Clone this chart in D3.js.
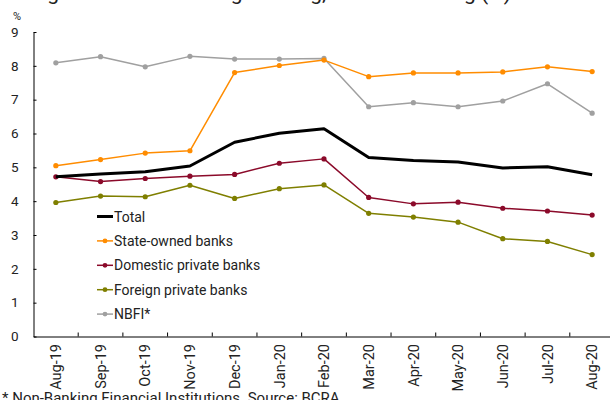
<!DOCTYPE html>
<html>
<head>
<meta charset="utf-8">
<script src="https://cdn.jsdelivr.net/npm/d3@7"></script>
<style>
  body { margin: 0; background: #fff; }
  svg { font-family: Roboto, "Liberation Sans", sans-serif; display: block; }
</style>
</head>
<body>
<div id="chart"></div>
<script>
// categories and series
const months = ["Aug-19","Sep-19","Oct-19","Nov-19","Dec-19","Jan-20","Feb-20",
                "Mar-20","Apr-20","May-20","Jun-20","Jul-20","Aug-20"];
const total    = [4.72, 4.80, 4.87, 5.04, 5.74, 6.01, 6.14, 5.29, 5.20, 5.16, 4.98, 5.02, 4.78];
const stateOwned = [5.05, 5.23, 5.42, 5.49, 7.80, 8.01, 8.17, 7.68, 7.79, 7.79, 7.82, 7.97, 7.83];
const domestic = [4.72, 4.58, 4.67, 4.74, 4.79, 5.12, 5.25, 4.11, 3.92, 3.97, 3.79, 3.71, 3.59];
const foreign  = [3.96, 4.15, 4.13, 4.47, 4.08, 4.37, 4.48, 3.64, 3.53, 3.38, 2.89, 2.81, 2.42];
const nbfi     = [8.09, 8.27, 7.97, 8.28, 8.20, 8.20, 8.22, 6.79, 6.91, 6.79, 6.96, 7.47, 6.60];
const yTicks = [0, 1, 2, 3, 4, 5, 6, 7, 8, 9];

const series = [
  { name: "Total", values: total, color: "#000000", width: 3, dots: false },
  { name: "State-owned banks", values: stateOwned, color: "#ff8c00", width: 1.5, dots: true },
  { name: "Domestic private banks", values: domestic, color: "#8b0a2a", width: 1.5, dots: true },
  { name: "Foreign private banks", values: foreign, color: "#7f7f00", width: 1.5, dots: true },
  { name: "NBFI*", values: nbfi, color: "#a0a0a0", width: 1.5, dots: true }
];

const W = 610, H = 400;
const svg = d3.select("#chart").append("svg")
  .attr("width", W).attr("height", H);

const x = d3.scaleBand().domain(months).range([33.5, 614.5]);
const y = d3.scaleLinear().domain([0, 9]).range([336.5, 32]);

// title, mostly cut off at the top
svg.append("text")
  .attr("x", 511).attr("y", 0)
  .attr("text-anchor", "end")
  .attr("font-size", 21)
  .attr("fill", "#222")
  .text("Private Lending Ratio: Non-Banking Lending, Private Lending (%)");

svg.append("text")
  .attr("x", 13).attr("y", 20)
  .attr("font-size", 11)
  .attr("fill", "#222")
  .text("%");

// y axis
const yAxis = svg.append("g")
  .attr("transform", `translate(${x.range()[0]},0)`)
  .call(d3.axisLeft(y).tickValues(yTicks).tickSize(-3).tickPadding(15).tickSizeOuter(0));
yAxis.select(".domain").attr("stroke", "#000");
yAxis.selectAll(".tick line").attr("stroke", "#000");
yAxis.selectAll("text").attr("font-size", 13.5).attr("font-family", "Roboto").attr("fill", "#222");

// x axis
const xAxis = svg.append("g")
  .attr("transform", `translate(0,${y(0)})`)
  .call(d3.axisBottom(x).tickSize(0).tickSizeOuter(0));
xAxis.select(".domain").attr("stroke", "#000");
xAxis.selectAll("text")
  .attr("font-size", 14.5).attr("font-family", "Roboto").attr("fill", "#222")
  .attr("transform", "rotate(-90)")
  .attr("text-anchor", "end")
  .attr("dx", 0).attr("dy", "0.36em").attr("y", 0).attr("x", -7.5);

// inward ticks between the categories
svg.append("g").selectAll("line")
  .data(months.slice(1))
  .join("line")
  .attr("x1", d => x(d)).attr("x2", d => x(d))
  .attr("y1", y(0)).attr("y2", y(0) - 4)
  .attr("stroke", "#000");

const line = d3.line()
  .x((d, i) => x(months[i]) + x.bandwidth() / 2)
  .y(d => y(d));

// draw back to front so total sits on top
const drawOrder = [series[4], series[1], series[3], series[2], series[0]];
drawOrder.forEach(s => {
  svg.append("path")
    .datum(s.values)
    .attr("fill", "none")
    .attr("stroke", s.color)
    .attr("stroke-width", s.width)
    .attr("stroke-linejoin", "round")
    .attr("d", line);
  if (s.dots) {
    svg.append("g").selectAll("circle")
      .data(s.values)
      .join("circle")
      .attr("cx", (d, i) => x(months[i]) + x.bandwidth() / 2)
      .attr("cy", d => y(d))
      .attr("r", 2.6)
      .attr("fill", s.color);
  }
});

// legend
const legend = svg.append("g").attr("transform", "translate(97,216.5)");
series.forEach((s, i) => {
  const g = legend.append("g").attr("transform", `translate(0,${i * 24.4})`);
  g.append("line")
    .attr("x1", 0).attr("x2", 16)
    .attr("stroke", s.color)
    .attr("stroke-width", s.width);
  if (s.dots) g.append("circle").attr("cx", 8).attr("r", 2.4).attr("fill", s.color);
  g.append("text")
    .attr("x", 17).attr("y", 5)
    .attr("font-size", 14)
    .attr("fill", "#222")
    .text(s.name);
});

// footnote, cut at the bottom
svg.append("text")
  .attr("x", 2).attr("y", 402.5)
  .attr("font-size", 15)
  .attr("fill", "#222")
  .text("* Non-Banking Financial Institutions. Source: BCRA");
</script>
</body>
</html>
